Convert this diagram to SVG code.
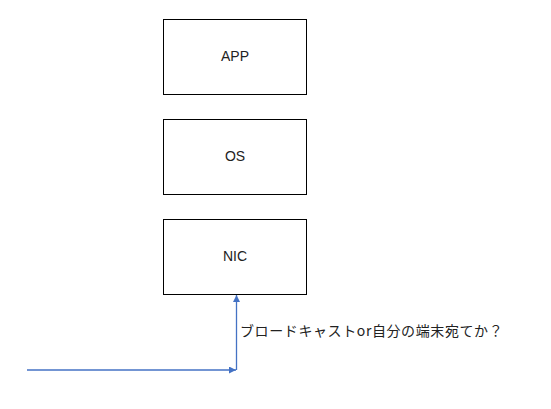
<svg xmlns="http://www.w3.org/2000/svg" width="551" height="409" viewBox="0 0 551 409">
<style>
.box{fill:#fff;stroke:#000;stroke-width:1}
.lbl{font-family:"Liberation Sans","Noto Sans CJK JP",sans-serif;font-size:14px;fill:#222;text-anchor:middle}
.con{stroke:#4472C4;stroke-width:1.3;fill:none}
.note{font-family:"Noto Sans CJK JP",sans-serif;font-size:14px;letter-spacing:0.6px;fill:#222}
</style>
<defs>
<marker id="ah" viewBox="0 0 10 10" refX="10" refY="5" markerWidth="7" markerHeight="7" markerUnits="userSpaceOnUse" orient="auto">
<path d="M0,0 L10,5 L0,10 z" fill="#4472C4"/>
</marker>
</defs>
<rect width="551" height="409" fill="#fff"/>
<g id="app"><rect class="box" x="163.5" y="19.5" width="143" height="75"/><text class="lbl" x="235" y="61">APP</text></g>
<g id="os"><rect class="box" x="163.5" y="119.5" width="143" height="75"/><text class="lbl" x="235" y="161">OS</text></g>
<g id="nic"><rect class="box" x="163.5" y="219.5" width="143" height="75"/><text class="lbl" x="235" y="261">NIC</text></g>
<g id="connectors">
<line class="con" x1="27" y1="370" x2="236" y2="370" marker-end="url(#ah)"/>
<line class="con" x1="236.5" y1="370" x2="236.5" y2="295" marker-end="url(#ah)"/>
</g>
<text class="note" x="240" y="336">ブロードキャストor自分の端末宛てか？</text>
</svg>
